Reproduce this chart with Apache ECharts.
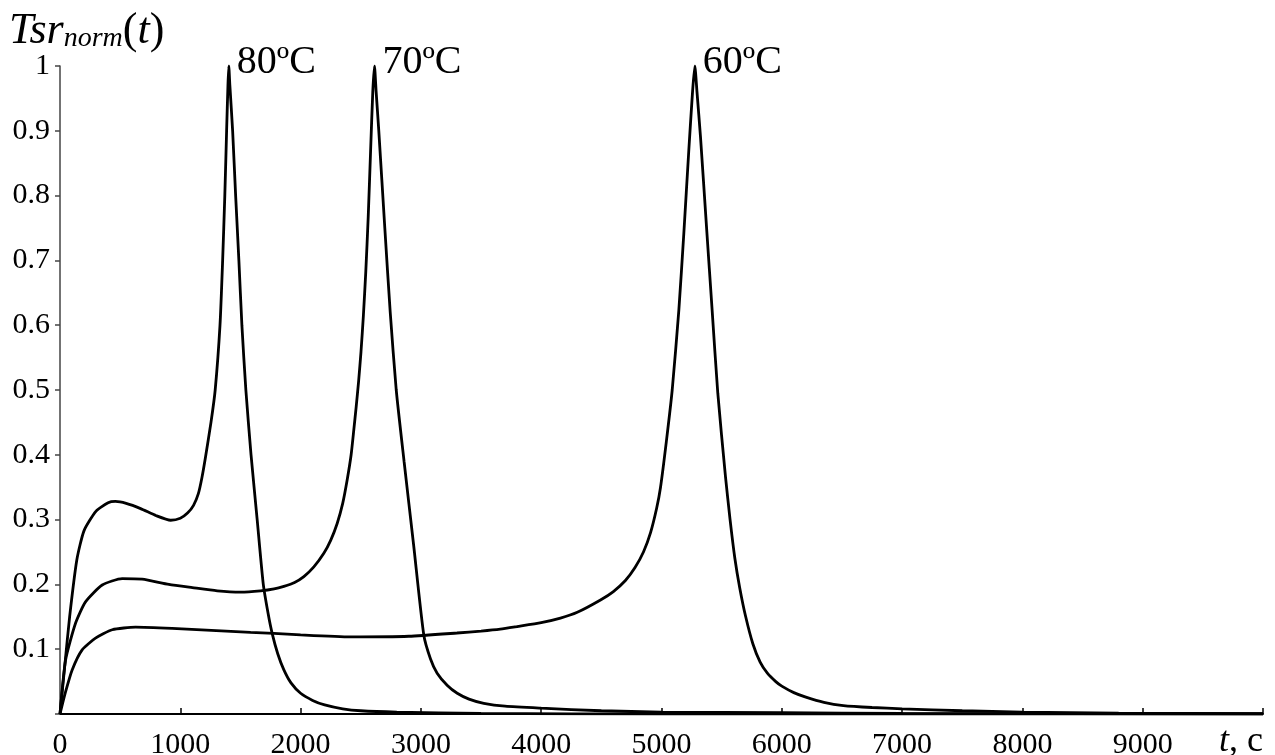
<!DOCTYPE html>
<html>
<head>
<meta charset="utf-8">
<script src="https://cdn.jsdelivr.net/npm/echarts@6/dist/echarts.min.js"></script>
<style>
html,body{margin:0;padding:0;background:#fff;}
#chart{width:1275px;height:755px;}
</style>
</head>
<body>
<div id="chart"></div>
<script>
// ---- data ----
var seriesNames = ['80ºC', '70ºC', '60ºC'];

var t80 = [0, 40, 80, 140, 200, 300, 400, 460, 550, 670, 800, 920, 1000, 1060, 1110, 1150, 1180, 1210, 1255, 1290, 1330, 1352, 1370, 1385, 1396, 1403, 1412, 1435, 1460, 1487, 1512, 1545, 1588, 1639, 1690, 1730, 1764, 1810, 1861, 1920, 2000, 2100, 2200, 2350, 2500, 2800, 3500, 5000, 10000];
var v80 = [0, 0.075, 0.15, 0.238, 0.283, 0.313, 0.326, 0.328, 0.325, 0.317, 0.306, 0.299, 0.302, 0.31, 0.322, 0.34, 0.365, 0.397, 0.45, 0.5, 0.6, 0.7, 0.8, 0.9, 0.97, 1.0, 0.97, 0.9, 0.8, 0.7, 0.6, 0.5, 0.4, 0.3, 0.2, 0.155, 0.124, 0.093, 0.068, 0.048, 0.032, 0.021, 0.014, 0.008, 0.005, 0.003, 0.001, 0.0, 0.0];

var t70 = [0, 46, 129, 212, 351, 517, 683, 905, 1100, 1307, 1500, 1667, 1780, 1861, 1950, 2027, 2110, 2193, 2250, 2304, 2350, 2387, 2420, 2442, 2462, 2482, 2502, 2522, 2542, 2562, 2582, 2600, 2614, 2628, 2650, 2700, 2745, 2795, 2860, 2940, 3024, 3080, 3135, 3220, 3302, 3400, 3523, 3700, 4000, 4500, 5000, 6000, 7000, 10000];
var v70 = [0, 0.083, 0.14, 0.173, 0.199, 0.209, 0.208, 0.2, 0.195, 0.19, 0.188, 0.19, 0.193, 0.197, 0.203, 0.212, 0.227, 0.248, 0.268, 0.294, 0.325, 0.361, 0.4, 0.438, 0.474, 0.513, 0.559, 0.615, 0.683, 0.767, 0.87, 0.96, 1.0, 0.96, 0.9, 0.75, 0.62, 0.5, 0.39, 0.26, 0.122, 0.085, 0.063, 0.044, 0.032, 0.023, 0.0165, 0.012, 0.009, 0.005, 0.003, 0.002, 0.001, 0.0];

var t60 = [0, 46, 101, 184, 295, 434, 628, 932, 1584, 1777, 2000, 2415, 2900, 3300, 3500, 3660, 3800, 4000, 4160, 4300, 4493, 4600, 4700, 4780, 4850, 4909, 4960, 4992, 5040, 5089, 5144, 5185, 5227, 5258, 5277, 5295, 5324, 5374, 5421, 5468, 5532, 5570, 5610, 5650, 5700, 5760, 5820, 5880, 5950, 6000, 6100, 6200, 6350, 6512, 6750, 7000, 7500, 8000, 8800, 10000];
var v60 = [0, 0.034, 0.068, 0.099, 0.117, 0.13, 0.134, 0.132, 0.126, 0.1245, 0.122, 0.119, 0.12, 0.125, 0.128, 0.131, 0.135, 0.141, 0.148, 0.157, 0.176, 0.189, 0.206, 0.226, 0.25, 0.28, 0.318, 0.35, 0.42, 0.5, 0.623, 0.74, 0.87, 0.96, 1.0, 0.96, 0.891, 0.752, 0.623, 0.495, 0.366, 0.3, 0.24, 0.195, 0.15, 0.108, 0.08, 0.063, 0.05, 0.043, 0.033, 0.026, 0.018, 0.013, 0.01, 0.008, 0.005, 0.003, 0.0015, 0.0005];

var peakT = [1403, 2614, 5277];
var peakV = [1.0, 1.0, 1.0];

var xTickLabels = ['0', '1000', '2000', '3000', '4000', '5000', '6000', '7000', '8000', '9000', ''];
var yTickLabels = ['', '0.1', '0.2', '0.3', '0.4', '0.5', '0.6', '0.7', '0.8', '0.9', '1'];

// ---- build ----
function pairs(t, v) { return t.map(function (x, i) { return [x, v[i]]; }); }
var allT = [t80, t70, t60];
var allV = [v80, v70, v60];
var FONT = '"Liberation Serif", "Times New Roman", serif';

var series = seriesNames.map(function (name, k) {
  return {
    name: name,
    type: 'line',
    data: pairs(allT[k], allV[k]),
    showSymbol: false,
    smooth: 0.2,
    lineStyle: { color: '#000', width: 2.8 },
    z: 3,
    markPoint: {
      symbol: 'circle',
      symbolSize: 0,
      silent: true,
      data: [{ coord: [peakT[k], peakV[k]] }],
      label: {
        show: true,
        formatter: name,
        position: 'right',
        distance: 0,
        offset: [8, -4],
        color: '#000',
        fontFamily: FONT,
        fontSize: 40
      }
    }
  };
});

var chart = echarts.init(document.getElementById('chart'), null, { renderer: 'canvas' });
chart.setOption({
  animation: false,
  backgroundColor: '#fff',
  title: {
    text: '{i|Tsr}{s|norm}{u|(}{i|t}{u|)}',
    left: 4,
    top: 8,
    textStyle: {
      fontWeight: 'normal',
      rich: {
        i: { fontFamily: FONT, fontStyle: 'italic', fontWeight: 'normal', fontSize: 44, color: '#000', verticalAlign: 'bottom', lineHeight: 40 },
        s: { fontFamily: FONT, fontStyle: 'italic', fontWeight: 'normal', fontSize: 28, color: '#000', verticalAlign: 'bottom', lineHeight: 22 },
        u: { fontFamily: FONT, fontWeight: 'normal', fontSize: 44, color: '#000', verticalAlign: 'bottom', lineHeight: 40 }
      }
    }
  },
  grid: { left: 60, right: 12, top: 66, bottom: 41, containLabel: false, outerBoundsMode: 'none' },
  xAxis: {
    type: 'value',
    min: 0, max: 10000, interval: 1000,
    name: '{i|t}{u|, c}',
    nameLocation: 'end',
    nameGap: 0,
    nameTextStyle: {
      align: 'right',
      verticalAlign: 'top',
      padding: [10, 0, 0, 0],
      rich: {
        i: { fontFamily: FONT, fontStyle: 'italic', fontSize: 36, color: '#000' },
        u: { fontFamily: FONT, fontSize: 36, color: '#000' }
      }
    },
    axisLine: { show: true, onZero: false, lineStyle: { color: '#000', width: 2 } },
    axisTick: { show: true, inside: true, length: 6, lineStyle: { color: '#000', width: 1.5 } },
    splitLine: { show: false },
    axisLabel: {
      margin: 16,
      color: '#000',
      fontFamily: FONT,
      fontSize: 30,
      formatter: function (v, i) { return xTickLabels[i] !== undefined ? xTickLabels[i] : ''; }
    }
  },
  yAxis: {
    type: 'value',
    min: 0, max: 1, interval: 0.1,
    axisLine: { show: true, onZero: false, lineStyle: { color: '#444', width: 1.5 } },
    axisTick: { show: true, inside: false, length: 5, lineStyle: { color: '#444', width: 1.5 } },
    splitLine: { show: false },
    axisLabel: {
      margin: 10,
      color: '#000',
      fontFamily: FONT,
      fontSize: 30,
      formatter: function (v, i) { return yTickLabels[i] !== undefined ? yTickLabels[i] : ''; }
    }
  },
  series: series
});
</script>
</body>
</html>
